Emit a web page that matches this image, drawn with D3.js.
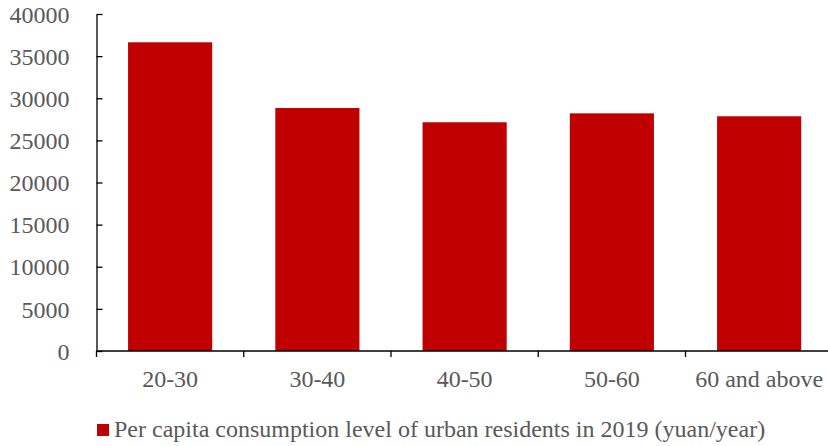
<!DOCTYPE html>
<html>
<head>
<meta charset="utf-8">
<script src="https://cdn.jsdelivr.net/npm/d3@7"></script>
<style>
  html, body { margin: 0; padding: 0; background: #fff; }
  svg { display: block; }
  svg text { font-family: "Liberation Serif", "Times New Roman", serif !important; fill: #595959; }
</style>
</head>
<body>
<svg id="chart" width="828" height="446"></svg>
<script>
// Per capita consumption of urban residents by age group, 2019 (yuan/year)
const categories = ["20-30", "30-40", "40-50", "50-60", "60 and above"];
const values = [36640, 28840, 27150, 28210, 27860];
const yTicks = [0, 5000, 10000, 15000, 20000, 25000, 30000, 35000, 40000];
const seriesName = "Per capita consumption level of urban residents in 2019 (yuan/year)";

const svg = d3.select("#chart");
const plotLeft = 96.5, plotBottom = 351, plotTop = 14;
const bandW = 147.25;
const plotRight = plotLeft + bandW * categories.length;
const fontSize = 24;

const x = d3.scaleBand()
  .domain(categories)
  .range([plotLeft, plotRight])
  .paddingInner(0.4286)
  .paddingOuter(0.2143);

const y = d3.scaleLinear().domain([0, 40000]).range([plotBottom, plotTop]);

// bars
svg.append("g").selectAll("rect")
  .data(values)
  .join("rect")
  .attr("x", (d, i) => x(categories[i]))
  .attr("width", x.bandwidth())
  .attr("y", d => y(d))
  .attr("height", d => y(0) - y(d))
  .attr("fill", "#C00000");

// y axis with inward ticks
const yAxis = svg.append("g")
  .attr("transform", `translate(${plotLeft},0)`)
  .call(d3.axisLeft(y).tickValues(yTicks).tickSize(-6).tickSizeOuter(0).tickPadding(27).tickFormat(d3.format("d")));
yAxis.attr("font-family", null).attr("font-size", null);
yAxis.select(".domain").attr("stroke", "#000").attr("stroke-width", 1.3);
yAxis.selectAll(".tick line").attr("stroke", "#000").attr("stroke-width", 1.3);
yAxis.selectAll("text").attr("font-size", fontSize).attr("fill", "#595959").attr("dy", "0.34em");

// x axis: line across the plot, ticks at category boundaries
const xg = svg.append("g");
xg.append("line")
  .attr("x1", plotLeft).attr("x2", 828)
  .attr("y1", plotBottom).attr("y2", plotBottom)
  .attr("stroke", "#000").attr("stroke-width", 1.3);
const bounds = d3.range(categories.length + 1).map(i => plotLeft + i * bandW);
xg.selectAll("line.tk")
  .data(bounds.filter(b => b < 828))
  .join("line")
  .attr("class", "tk")
  .attr("x1", d => d).attr("x2", d => d)
  .attr("y1", plotBottom).attr("y2", plotBottom + 6)
  .attr("stroke", "#000").attr("stroke-width", 1.3);
xg.selectAll("text")
  .data(categories)
  .join("text")
  .attr("x", d => x(d) + x.bandwidth() / 2)
  .attr("y", 387)
  .attr("text-anchor", "middle")
  .attr("font-size", fontSize)
  .text(d => d);

// legend
const lg = svg.append("g");
lg.append("rect")
  .attr("x", 97).attr("y", 424)
  .attr("width", 12).attr("height", 12)
  .attr("fill", "#C00000");
lg.append("text")
  .attr("x", 114).attr("y", 437)
  .attr("font-size", fontSize)
  .text(seriesName);
</script>
</body>
</html>
